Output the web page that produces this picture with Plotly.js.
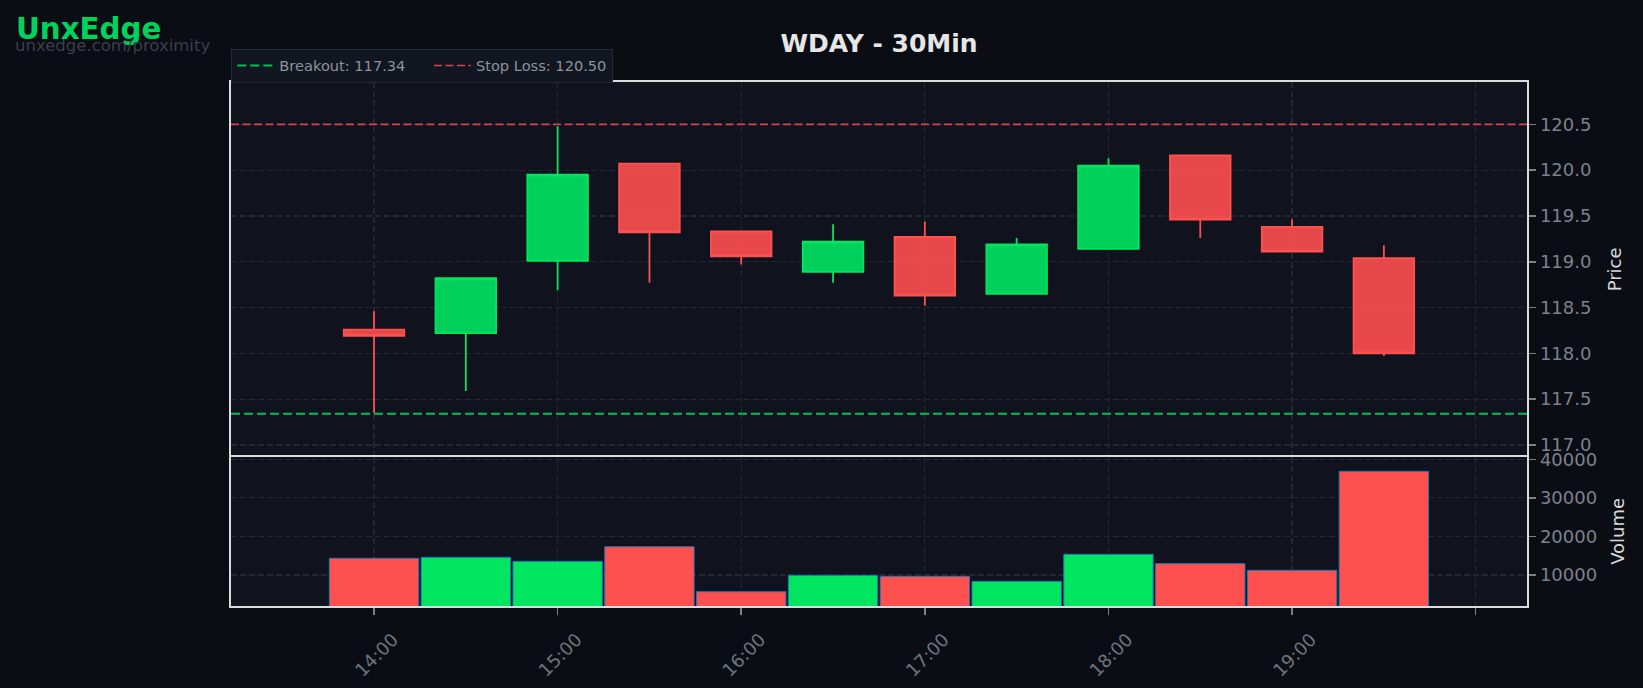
<!DOCTYPE html>
<html>
<head>
<meta charset="utf-8">
<script src="https://cdn.plot.ly/plotly-3.0.1.min.js"></script>
<style>
html,body{margin:0;padding:0;background:#0a0d14;}
#chart{width:1643px;height:688px;}
</style>
</head>
<body>
<div id="chart"></div>
<script>
// ---- data ----
const times = ['2024-01-02 14:00','2024-01-02 14:30','2024-01-02 15:00','2024-01-02 15:30',
               '2024-01-02 16:00','2024-01-02 16:30','2024-01-02 17:00','2024-01-02 17:30',
               '2024-01-02 18:00','2024-01-02 18:30','2024-01-02 19:00','2024-01-02 19:30'];
const opens  = [118.26, 118.22, 119.01, 120.07, 119.33, 118.89, 119.27, 118.65, 119.14, 120.16, 119.38, 119.04];
const highs  = [118.46, 118.82, 120.48, 120.08, 119.33, 119.41, 119.44, 119.26, 120.13, 120.16, 119.46, 119.18];
const lows   = [117.35, 117.59, 118.69, 118.77, 118.97, 118.77, 118.52, 118.65, 119.14, 119.26, 119.11, 117.97];
const closes = [118.19, 118.82, 119.95, 119.32, 119.06, 119.22, 118.63, 119.19, 120.05, 119.46, 119.11, 118.00];
const volumes = [14330, 14590, 13550, 17340, 5670, 9910, 9650, 8360, 15360, 12940, 11210, 36880];

const breakoutLevel = 117.34;
const stopLossLevel = 120.50;

const xTickVals = ['2024-01-02 14:00','2024-01-02 15:00','2024-01-02 16:00','2024-01-02 17:00',
                   '2024-01-02 18:00','2024-01-02 19:00','2024-01-02 20:00'];
const xTickText = ['14:00','15:00','16:00','17:00','18:00','19:00',''];
const priceTicks = [117.0, 117.5, 118.0, 118.5, 119.0, 119.5, 120.0, 120.5];
const volumeTicks = [10000, 20000, 30000, 40000];

const chartTitle = 'WDAY - 30Min';
const brand = 'UnxEdge';
const brandUrl = 'unxedge.com/proximity';

// ---- styling ----
const GREEN = '#00e660', RED = '#ff5050';
const xRange = ['2024-01-02 13:13:16', '2024-01-02 20:16:52'];
const FONT = 'DejaVu Sans';
const PAD = '\u00a0\u00a0\u00a0\u00a0'; // spacing after first legend entry

const volColors = closes.map((c, i) => c >= opens[i] ? GREEN : RED);

const traces = [
  {
    type: 'candlestick', x: times, open: opens, high: highs, low: lows, close: closes,
    xaxis: 'x', yaxis: 'y', showlegend: false, whiskerwidth: 0,
    increasing: {line: {color: GREEN, width: 1.8}, fillcolor: 'rgba(0,230,96,0.9)'},
    decreasing: {line: {color: RED, width: 1.8}, fillcolor: 'rgba(255,80,80,0.9)'},
    hoverinfo: 'skip'
  },
  {
    type: 'scatter', mode: 'lines', x: xRange, y: [breakoutLevel, breakoutLevel],
    name: 'Breakout: ' + breakoutLevel.toFixed(2) + PAD, legendrank: 1,
    line: {color: '#00c050', width: 2, dash: '9px,4px'}, xaxis: 'x', yaxis: 'y', hoverinfo: 'skip'
  },
  {
    type: 'scatter', mode: 'lines', x: xRange, y: [stopLossLevel, stopLossLevel],
    name: 'Stop Loss: ' + stopLossLevel.toFixed(2), legendrank: 2,
    line: {color: '#d04848', width: 1.6, dash: '8px,3.5px'}, xaxis: 'x', yaxis: 'y', hoverinfo: 'skip'
  },
  {
    type: 'bar', x: times, y: volumes, xaxis: 'x2', yaxis: 'y2', showlegend: false,
    width: 29.2 * 60000,
    marker: {color: volColors, line: {color: '#1f77b4', width: 1}},
    hoverinfo: 'skip'
  }
];

const gridCommon = {
  gridcolor: '#232732', gridwidth: 1.2, griddash: '6px,3px',
  showline: true, linecolor: '#dcdce0', linewidth: 2, mirror: true,
  zeroline: false
};

const layout = {
  width: 1643, height: 688,
  paper_bgcolor: '#0a0d14', plot_bgcolor: '#10131e',
  margin: {l: 0, r: 0, t: 0, b: 0},
  font: {family: FONT, color: '#8b8f99'},
  boxgap: 0.34, boxgroupgap: 0,
  showlegend: true,
  legend: {
    orientation: 'h', x: 0.1408, y: 1 - 48.5/688, xanchor: 'left', yanchor: 'top',
    bgcolor: '#121620', bordercolor: '#262a35', borderwidth: 1,
    itemwidth: 37,
    font: {family: FONT, size: 14.6, color: '#8d929c'}
  },
  title: {
    text: chartTitle, x: 879/1643, xanchor: 'center', y: 1 - 43/688, yanchor: 'middle',
    font: {family: FONT, size: 25, color: '#e6e6e6', weight: 'bold'}
  },
  xaxis: Object.assign({}, gridCommon, {
    type: 'date', domain: [0.1406, 0.92958], range: xRange, anchor: 'y',
    side: 'top', mirror: false,
    tickvals: xTickVals, showticklabels: false, ticks: '',
    rangeslider: {visible: false}
  }),
  yaxis: Object.assign({}, gridCommon, {
    domain: [0.33619, 0.88081], range: [116.872, 120.962], side: 'right', anchor: 'x',
    tickvals: priceTicks, ticktext: priceTicks.map(v => v.toFixed(1)),
    ticks: 'outside', ticklen: 7, tickwidth: 1.5, tickcolor: '#7a7f88',
    tickfont: {family: FONT, size: 18, color: '#7d828c'},
    title: {text: 'Price', standoff: 18, font: {family: FONT, size: 18, color: '#dadada'}}
  }),
  xaxis2: Object.assign({}, gridCommon, {
    type: 'date', domain: [0.1406, 0.92958], range: xRange, anchor: 'y2', matches: 'x',
    tickvals: xTickVals, ticktext: xTickText, tickangle: -45,
    ticks: 'outside', ticklen: 7, tickwidth: 1.5, tickcolor: '#7a7f88',
    ticklabelshift: 19, ticklabelstandoff: 7,
    tickfont: {family: FONT, size: 18, color: '#6f747e'},
    rangeslider: {visible: false}
  }),
  yaxis2: Object.assign({}, gridCommon, {
    domain: [0.11919, 0.33619], range: [1963, 40674], side: 'right', anchor: 'x2',
    tickvals: volumeTicks, ticktext: volumeTicks.map(v => String(v)),
    ticks: 'outside', ticklen: 7, tickwidth: 1.5, tickcolor: '#7a7f88',
    tickfont: {family: FONT, size: 18, color: '#7d828c'},
    title: {text: 'Volume', standoff: 15, font: {family: FONT, size: 18, color: '#dadada'}}
  }),
  annotations: [
    {text: '<b>' + brand + '</b>', xref: 'paper', yref: 'paper', x: 14/1643, y: 1 - 29/688,
     xanchor: 'left', yanchor: 'middle', showarrow: false,
     font: {family: FONT, size: 29.3, color: '#00d25c'}},
    {text: brandUrl, xref: 'paper', yref: 'paper', x: 13/1643, y: 1 - 45/688,
     xanchor: 'left', yanchor: 'middle', showarrow: false,
     font: {family: FONT, size: 16.5, color: '#3a3f4b'}}
  ]
};

Plotly.newPlot('chart', traces, layout, {staticPlot: true, displayModeBar: false});
</script>
</body>
</html>
